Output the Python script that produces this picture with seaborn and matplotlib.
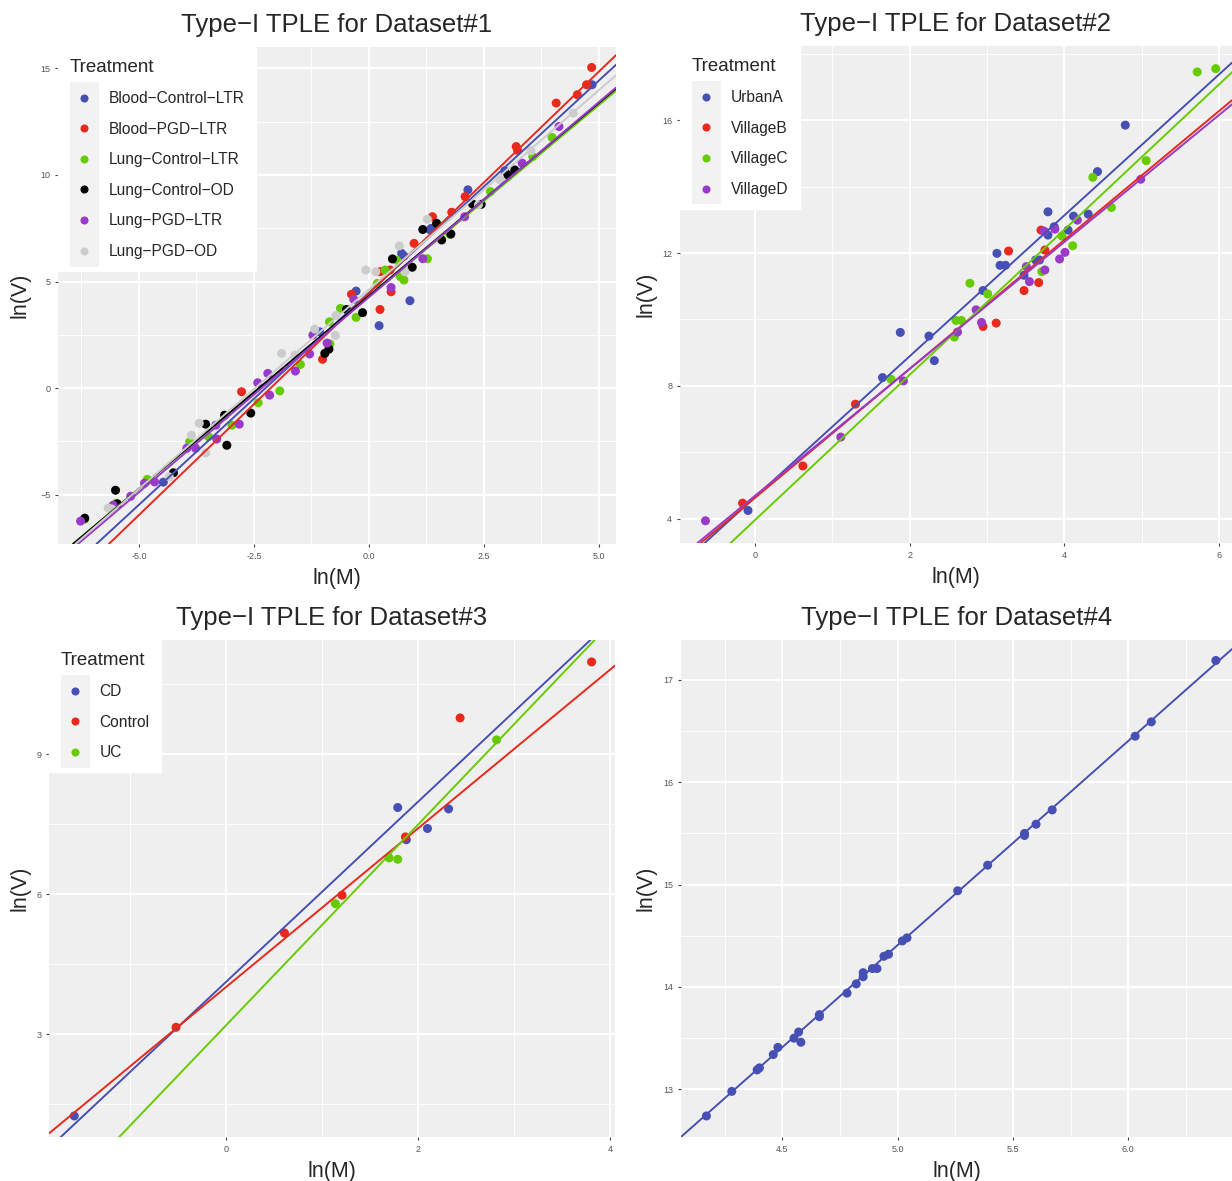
import matplotlib
matplotlib.use("Agg")
import matplotlib.pyplot as plt
from matplotlib.ticker import AutoMinorLocator
from matplotlib.legend_handler import HandlerBase
from matplotlib.patches import Rectangle
from matplotlib.lines import Line2D
import seaborn as sns
import pandas as pd

# ---- data: ln(M) / ln(V) per treatment ----
# Dataset 1
blood_ctrl_ltr_m = [-4.47, -1.07, -0.28, 0.22, 0.89, 0.71, 0.76, 1.33, 1.35, 2.15, 2.95, 4.85]
blood_ctrl_ltr_v = [-4.41, 2.64, 4.55, 2.93, 4.10, 6.32, 6.20, 7.42, 7.49, 9.30, 10.19, 14.23]
blood_pgd_ltr_m = [-2.77, -1.01, -0.38, 0.24, 0.24, 0.46, 0.48, 0.98, 1.38, 1.80, 2.09, 3.20, 3.23,
                   4.07, 4.53, 4.73, 4.84]
blood_pgd_ltr_v = [-0.17, 1.35, 4.40, 3.69, 5.46, 5.54, 4.52, 6.79, 8.04, 8.25, 8.98, 11.33, 11.15,
                   13.37, 13.76, 14.23, 15.04]
lung_ctrl_ltr_m = [-6.18, -5.49, -4.82, -3.90, -3.49, -2.98, -2.41, -1.94, -1.49, -0.86, -0.85, -0.62,
                   -0.28, 0.18, 0.35, 0.60, 0.68, 0.76, 1.27, 1.76, 2.64, 3.56, 3.98]
lung_ctrl_ltr_v = [-6.15, -5.40, -4.28, -2.52, -2.28, -1.74, -0.69, -0.13, 1.11, 3.11, 2.07, 3.74,
                   3.32, 4.91, 5.54, 6.00, 5.23, 5.07, 6.07, 7.21, 9.22, 10.86, 11.76]
lung_ctrl_od_m = [-6.18, -5.51, -5.47, -4.25, -3.55, -3.14, -3.09, -2.57, -0.96, -0.87, -0.49, -0.14,
                  0.51, 0.94, 1.17, 1.47, 1.58, 1.78, 2.25, 2.44, 3.02, 3.17]
lung_ctrl_od_v = [-6.10, -4.79, -5.43, -3.97, -1.69, -1.27, -2.68, -1.17, 1.63, 1.83, 3.69, 3.54,
                  6.06, 5.67, 7.44, 7.73, 6.95, 7.23, 8.64, 8.62, 10.00, 10.23]
lung_pgd_ltr_m = [-6.27, -5.56, -5.18, -4.88, -4.66, -3.96, -3.77, -3.33, -3.31, -2.82, -2.42, -2.20,
                  -2.16, -1.60, -1.29, -1.22, -0.91, -0.33, 0.48, 1.17, 2.08, 3.33, 4.13]
lung_pgd_ltr_v = [-6.24, -5.49, -5.07, -4.46, -4.40, -2.82, -2.82, -1.74, -2.39, -1.69, 0.25, 0.69,
                  -0.33, 0.80, 1.60, 2.49, 2.11, 4.16, 4.72, 6.07, 8.04, 10.55, 12.27]
lung_pgd_od_m = [-5.67, -5.59, -4.34, -3.86, -3.69, -3.55, -1.90, -1.61, -1.18, -0.73, -0.72, -0.07,
                 0.15, 0.66, 0.78, 1.27, 2.38, 2.85, 3.52, 4.44]
lung_pgd_od_v = [-5.62, -5.67, -4.16, -2.21, -1.65, -3.04, 1.63, 1.55, 2.77, 2.47, 3.40, 5.54,
                 5.46, 6.67, 5.46, 7.92, 8.60, 9.77, 11.14, 12.90]

# Dataset 2
urban_a_m = [-0.09, 1.65, 1.88, 2.25, 2.32, 2.95, 3.13, 3.17, 3.24, 3.48, 3.63, 3.68, 3.79, 3.79,
             3.87, 4.05, 4.12, 4.31, 4.43, 4.79]
urban_a_v = [4.25, 8.25, 9.61, 9.50, 8.76, 10.87, 11.99, 11.63, 11.63, 11.33, 11.79, 11.79, 13.24, 12.54,
             12.79, 12.69, 13.11, 13.17, 14.45, 15.85]
village_b_m = [-0.16, 0.62, 1.30, 2.95, 3.12, 3.28, 3.48, 3.67, 3.70, 3.75]
village_b_v = [4.47, 5.59, 7.45, 9.79, 9.89, 12.06, 10.87, 11.11, 12.69, 12.09]
village_c_m = [1.76, 2.58, 2.60, 2.67, 2.78, 3.01, 3.71, 3.97, 4.11, 4.37, 4.61, 5.06, 5.72, 5.96]
village_c_v = [8.20, 9.47, 9.97, 9.97, 11.09, 10.77, 11.44, 12.51, 12.22, 14.28, 13.37, 14.78, 17.45, 17.55]
village_d_m = [-0.64, 1.11, 1.92, 2.62, 2.86, 2.93, 3.51, 3.55, 3.74, 3.75, 3.88, 3.94, 4.01, 4.17, 4.99]
village_d_v = [3.94, 6.46, 8.15, 9.62, 10.29, 9.91, 11.59, 11.14, 12.66, 11.49, 12.72, 11.82, 12.02, 12.99, 14.22]

# Dataset 3
cd_m = [-1.58, 1.79, 1.88, 2.10, 2.32]
cd_v = [1.25, 7.86, 7.17, 7.41, 7.83]
control_m = [-0.52, 0.61, 1.21, 1.87, 2.44, 3.81]
control_v = [3.15, 5.17, 5.98, 7.23, 9.78, 10.98]
uc_m = [1.14, 1.70, 1.79, 2.82]
uc_v = [5.80, 6.78, 6.75, 9.31]

# Dataset 4
ds4_m = [4.17, 4.28, 4.39, 4.40, 4.46, 4.48, 4.55, 4.57, 4.58, 4.66, 4.66, 4.78, 4.82, 4.85, 4.85,
         4.89, 4.91, 4.94, 4.96, 5.02, 5.04, 5.26, 5.39, 5.55, 5.55, 5.60, 5.67, 6.03, 6.10, 6.38]
ds4_v = [12.74, 12.98, 13.19, 13.21, 13.34, 13.41, 13.50, 13.56, 13.46, 13.73, 13.71, 13.94, 14.03, 14.14,
         14.10, 14.18, 14.18, 14.30, 14.32, 14.45, 14.48, 14.94, 15.19, 15.48, 15.50, 15.59, 15.73,
         16.45, 16.59, 17.19]

# fitted TPLE lines (intercept, slope)
ds1_fit = {"Blood−Control−LTR": (4.48, 1.99), "Blood−PGD−LTR": (4.45, 2.08),
           "Lung−Control−LTR": (4.28, 1.80), "Lung−Control−OD": (4.33, 1.81),
           "Lung−PGD−LTR": (4.27, 1.83), "Lung−PGD−OD": (4.63, 1.87)}
ds2_fit = {"UrbanA": (4.65, 2.12), "VillageB": (4.63, 1.94),
           "VillageC": (3.96, 2.185), "VillageD": (4.69, 1.91)}
ds3_fit = {"CD": (4.12, 1.93), "Control": (4.01, 1.70), "UC": (3.19, 2.15)}
ds4_fit = {"All": (4.44, 1.994)}

# ---- colours ----
blue, red, green, black, purple, grey = "#4650B4", "#E8291C", "#66CC00", "#000000", "#9A3ACB", "#CCCCCC"


def frame(groups):
    parts = []
    for name, (m, v) in groups.items():
        parts.append(pd.DataFrame({"lnM": m, "lnV": v, "Treatment": name}))
    return pd.concat(parts, ignore_index=True)


df1 = frame({"Blood−Control−LTR": (blood_ctrl_ltr_m, blood_ctrl_ltr_v),
             "Blood−PGD−LTR": (blood_pgd_ltr_m, blood_pgd_ltr_v),
             "Lung−Control−LTR": (lung_ctrl_ltr_m, lung_ctrl_ltr_v),
             "Lung−Control−OD": (lung_ctrl_od_m, lung_ctrl_od_v),
             "Lung−PGD−LTR": (lung_pgd_ltr_m, lung_pgd_ltr_v),
             "Lung−PGD−OD": (lung_pgd_od_m, lung_pgd_od_v)})
df2 = frame({"UrbanA": (urban_a_m, urban_a_v), "VillageB": (village_b_m, village_b_v),
             "VillageC": (village_c_m, village_c_v), "VillageD": (village_d_m, village_d_v)})
df3 = frame({"CD": (cd_m, cd_v), "Control": (control_m, control_v), "UC": (uc_m, uc_v)})
df4 = frame({"All": (ds4_m, ds4_v)})

pal1 = dict(zip(ds1_fit, [blue, red, green, black, purple, grey]))
pal2 = dict(zip(ds2_fit, [blue, red, green, purple]))
pal3 = dict(zip(ds3_fit, [blue, red, green]))
pal4 = {"All": blue}


# ggplot-like legend key: grey square behind a small dot
class KeyHandler(HandlerBase):
    def create_artists(self, legend, orig_handle, xdescent, ydescent, width, height, fontsize, trans):
        pitch = fontsize * (legend.labelspacing + 1.05)
        cy = height / 2 - ydescent
        rect = Rectangle((-xdescent, cy - pitch / 2), width, pitch, facecolor="#F2F2F2",
                         edgecolor="none", transform=trans)
        c = orig_handle.get_color()
        dot = Line2D([width / 2 - xdescent], [cy], marker="o", ls="none", ms=4.8,
                     mfc=c, mec=c, transform=trans)
        return [rect, dot]


sns.set_theme(style="darkgrid", rc={"axes.facecolor": "#F0EFEF", "grid.color": "white"})
plt.rcParams["font.family"] = ["Liberation Sans", "DejaVu Sans"]

fig = plt.figure(figsize=(12.32, 11.81), dpi=100)

panels = [
    # df, fits, palette, rect, xlim, ylim, xticks, yticks, title, ylabel pad
    (df1, ds1_fit, pal1, [0.0471, 0.5394, 0.4529, 0.4208], (-6.76, 5.37), (-7.31, 16.0),
     [-5.0, -2.5, 0.0, 2.5, 5.0], [-5, 0, 5, 10, 15], "Type−I TPLE for Dataset#1", 6.6),
    (df2, ds2_fit, pal2, [0.5519, 0.5402, 0.4481, 0.4208], (-0.97, 6.17), (3.27, 18.23),
     [0, 2, 4, 6], [4, 8, 12, 16], "Type−I TPLE for Dataset#2", 4.0),
    (df3, ds3_fit, pal3, [0.0398, 0.0373, 0.4594, 0.4208], (-1.843, 4.054), (0.80, 11.45),
     [0, 2, 4], [3, 6, 9], "Type−I TPLE for Dataset#3", 3.8),
    (df4, ds4_fit, pal4, [0.5528, 0.0373, 0.4472, 0.4208], (4.06, 6.45), (12.535, 17.39),
     [4.5, 5.0, 5.5, 6.0], [13, 14, 15, 16, 17], "Type−I TPLE for Dataset#4", 4.6),
]

for df, fits, pal, rect, xlim, ylim, xt, yt, title, ypad in panels:
    ax = fig.add_axes(rect)
    sns.scatterplot(data=df, x="lnM", y="lnV", hue="Treatment", hue_order=list(fits),
                    palette=pal, s=42, edgecolor="none", linewidth=0, ax=ax,
                    legend=False, zorder=3)
    for name, (b0, b1) in fits.items():
        ax.axline((0, b0), slope=b1, color=pal[name], lw=1.4, zorder=4)
    ax.set_xlim(*xlim)
    ax.set_ylim(*ylim)
    ax.set_xticks(xt)
    ax.set_yticks(yt)
    if isinstance(xt[0], float):
        ax.set_xticklabels([f"{t:.1f}" for t in xt])
    ax.xaxis.set_minor_locator(AutoMinorLocator(2))
    ax.yaxis.set_minor_locator(AutoMinorLocator(2))
    ax.grid(which="major", color="white", lw=1.5)
    ax.grid(which="minor", color="white", lw=0.7)
    ax.tick_params(which="major", labelsize=6.5, labelcolor="#555555", length=2.5, width=0.8,
                   color="#444444", pad=3, bottom=True, left=True)
    ax.tick_params(which="minor", length=0)
    for sp in ax.spines.values():
        sp.set_visible(False)
    ax.set_title(title, fontsize=18.5, pad=11)
    ax.set_xlabel("ln(M)", fontsize=15.5, labelpad=5.6)
    ax.set_ylabel("ln(V)", fontsize=15.5, labelpad=ypad)
    if len(fits) > 1:
        handles = [Line2D([], [], color=pal[n]) for n in fits]
        leg = ax.legend(handles, list(fits), title="Treatment", loc="upper left",
                        bbox_to_anchor=(0, 1), borderaxespad=0, frameon=True,
                        facecolor="white", edgecolor="white", framealpha=1, fancybox=False,
                        fontsize=11.2, title_fontsize=13.5, alignment="left",
                        labelspacing=1.0, handlelength=1.9, handletextpad=0.6, borderpad=0.75,
                        handler_map={Line2D: KeyHandler()})
        leg.set_zorder(10)

plt.savefig("out.png", dpi=100)
